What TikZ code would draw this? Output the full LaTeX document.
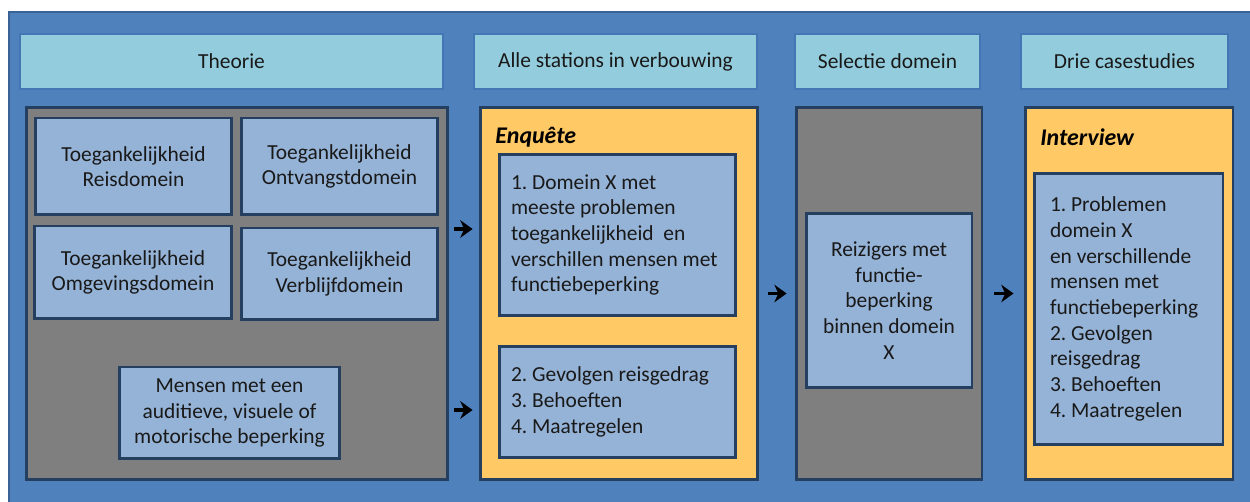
\documentclass[tikz,border=0pt]{standalone}
\usepackage{fontspec}
\setmainfont{Carlito}
\usetikzlibrary{arrows.meta}

\definecolor{achtergrond}{HTML}{4F81BD}
\definecolor{achterrand}{HTML}{3A6296}
\definecolor{kopvulling}{HTML}{93CDDD}
\definecolor{koprand}{HTML}{4376B4}
\definecolor{grijs}{HTML}{7F7F7F}
\definecolor{oranje}{HTML}{FFCA66}
\definecolor{vakvulling}{HTML}{95B3D7}
\definecolor{donkerrand}{HTML}{243F60}

\begin{document}
\begin{tikzpicture}[x=0.02cm,y=-0.02cm,
    every node/.style={font=\fontsize{12.2}{14.6}\selectfont\frenchspacing,text=black!90},
    kop/.style={draw=koprand,fill=kopvulling,line width=1.2pt,inner sep=0pt,minimum height=1.1cm},
    paneel/.style={draw=donkerrand,fill=grijs,line width=1.7pt,inner sep=0pt,minimum height=7.46cm},
    methode/.style={paneel,fill=oranje},
    methodelabel/.style={anchor=west,inner sep=0pt,font=\fontsize{13.6}{16}\selectfont\bfseries\itshape,text=black},
    vak/.style={draw=donkerrand,fill=vakvulling,line width=1.7pt,inner sep=0pt,align=center},
    lijst/.style={vak,align=flush left},
    pijl/.style={line width=2.2pt,-{Stealth[length=7pt,width=10pt]}}]
    \useasboundingbox (0,0) rectangle (1250,502);

    % Achtergrond
    \filldraw[fill=achtergrond,draw=achterrand,line width=1.2pt] (9,12) rectangle (1260,510);

    % Koppen
    \node[kop,minimum width=8.46cm] (theorie) at (231.5,61.5) {Theorie};
    \node[kop,minimum width=5.66cm] (stations) at (615.5,61.5) {Alle stations in verbouwing};
    \node[kop,minimum width=3.7cm] (selectie) at (887.5,61.5) {Selectie domein};
    \node[kop,minimum width=4.14cm] (cases) at (1124.5,61.5) {Drie casestudies};

    % Panelen
    \node[paneel,minimum width=8.44cm] (theoriepaneel) at (237,293.5) {};
    \node[methode,minimum width=5.56cm] (enquete) at (619,293.5) {};
    \node[paneel,minimum width=3.72cm] (selectiepaneel) at (889,293.5) {};
    \node[methode,minimum width=4.16cm] (interview) at (1129,293.5) {};

    % Theorie
    \node[vak,minimum width=3.94cm,minimum height=1.94cm] (reis) at (133.5,166.5) {Toegankelijkheid\\Reisdomein};
    \node[vak,minimum width=3.94cm,minimum height=1.94cm] (ontvangst) at (339.5,166.5) {Toegankelijkheid\\Ontvangstdomein};
    \node[vak,minimum width=3.96cm,minimum height=1.86cm] (omgeving) at (133,272.5) {Toegankelijkheid\\Omgevingsdomein};
    \node[vak,minimum width=3.94cm,minimum height=1.84cm] (verblijf) at (339.5,274) {Toegankelijkheid\\Verblijfdomein};
    \node[vak,minimum width=4.42cm,minimum height=1.84cm] (mensen) at (229.5,413) {Mensen met een\\auditieve, visuele of\\motorische beperking};

    % Enquete
    \node[methodelabel] (enquetelabel) at (495,137) {Enquête};
    \node[lijst,text width=4.26cm,minimum width=4.74cm,minimum height=3.24cm] (vraag1) at (617.5,235) {1. Domein X met\\meeste problemen\\toegankelijkheid\ \ en\\verschillen mensen met\\functiebeperking};
    \node[lijst,text width=4.26cm,minimum width=4.74cm,minimum height=2.24cm] (vraag2) at (617.5,402) {2. Gevolgen reisgedrag\\3. Behoeften\\4. Maatregelen};

    % Selectie
    \node[vak,minimum width=3.32cm,minimum height=3.5cm] (reizigers) at (889,300.5) {Reizigers met\\functie-\\beperking\\binnen domein\\X};

    % Interview
    \node[methodelabel] (interviewlabel) at (1040,137) {Interview};
    \node[lijst,text width=3.14cm,minimum width=3.78cm,minimum height=5.44cm] (vragen) at (1128.5,309) {1. Problemen\\domein X\\en verschillende\\mensen met\\functiebeperking\\2. Gevolgen\\reisgedrag\\3. Behoeften\\4. Maatregelen};

    % Pijlen
    \draw[pijl,shorten <=2.6pt,shorten >=3.4pt] (theoriepaneel.east |- vraag1.west) ++(0,-6) coordinate (p1) -- (enquete.west |- p1);
    \draw[pijl,shorten <=2.6pt,shorten >=3.4pt] (theoriepaneel.east |- vraag2.west) ++(0,8) coordinate (p2) -- (enquete.west |- p2);
    \draw[pijl,shorten <=5pt,shorten >=4.5pt] (enquete.east) -- (selectiepaneel.west);
    \draw[pijl,shorten <=6.2pt,shorten >=5.7pt] (selectiepaneel.east) -- (interview.west);
\end{tikzpicture}
\end{document}
